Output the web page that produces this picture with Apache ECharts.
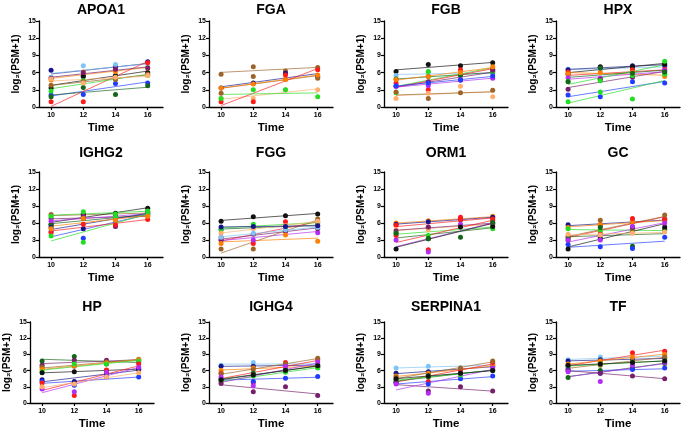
<!DOCTYPE html>
<html><head><meta charset="utf-8">
<script src="https://cdn.jsdelivr.net/npm/echarts@6/dist/echarts.min.js"></script>
<style>html,body{margin:0;padding:0;background:#fff}#c{width:683px;height:431px}</style>
</head><body><div id="c"></div>
<script>
// ---- data ----
const panelNames = ['APOA1','FGA','FGB','HPX','IGHG2','FGG','ORM1','GC','HP','IGHG4','SERPINA1','TF'];
const timePoints = [10, 12, 14, 16];
const xTickLabels = [10, 12, 14, 16];
const yTickLabels = [0, 3, 6, 9, 12, 15];
// each row: subject colour key, value at 10, 12, 14, 16 (null = missing)
const apoa1 = [
  ['navy', 6.4, 5.4, 7.0, 7.9], ['lightblue', 5.2, 7.2, 7.4, 7.0], ['blue', 2.1, 2.2, 4.1, 4.2],
  ['black', 3.3, 5.3, 5.5, 6.0], ['red', 0.9, 0.9, 6.6, 7.7], ['darkgreen', 1.8, 3.4, 2.2, 3.7],
  ['lime', 2.8, 4.6, 4.9, 5.5], ['orange', 4.7, 6.1, 6.2, 6.8], ['brown', 3.8, 4.4, 4.8, 5.7],
  ['purple', 5.0, 6.0, 6.6, 6.8], ['peach', 4.9, 4.2, 5.2, 5.5]
];
const fga = [
  ['brown', 5.7, 7.0, 6.3, 6.9], ['navy', 3.3, 4.2, 5.9, 5.3], ['brown', 2.4, 5.3, 4.8, 5.0],
  ['orange', 3.3, 4.0, 4.8, 5.6], ['peach', 1.5, 1.5, 3.0, 3.0], ['red', 0.9, 0.9, 5.6, 6.5],
  ['lime', 1.5, 3.0, 3.0, 1.8]
];
const fgb = [
  ['black', 6.2, 7.4, 7.2, 7.7], ['lightblue', 5.5, 6.0, 5.9, 5.8], ['darkgreen', 4.9, 5.3, 5.5, 6.1],
  ['lime', 2.5, 6.2, 6.0, 6.2], ['red', 4.2, 3.0, 6.5, 6.6], ['purple', 3.6, 4.4, 4.7, 6.4],
  ['violet', 3.6, 3.7, 4.7, 5.0], ['orange', 4.8, 5.3, 6.0, 7.0], ['peach', 1.5, 2.4, 3.6, 1.8],
  ['brown', 2.6, 1.5, 2.5, 2.9], ['blue', 3.7, 4.2, 4.7, 5.4]
];
const hpx = [
  ['lightblue', 6.6, 6.5, 6.9, 7.0], ['navy', 6.5, 6.9, 7.2, 7.3], ['black', 5.7, 7.0, 7.0, 7.5],
  ['red', 6.1, 4.8, 6.5, 6.6], ['orange', 5.8, 6.0, 6.0, 5.3], ['violet', 5.1, 5.0, 5.5, 6.4],
  ['purple', 3.1, 4.8, 5.2, 6.1], ['blue', 2.1, 1.8, 4.4, 4.2], ['lime', 0.9, 2.6, 1.4, 5.7],
  ['lime', 4.5, 4.6, 5.5, 8.0], ['darkgreen', 4.4, 6.8, 5.9, 6.1]
];
const ighg2 = [
  ['brown', 7.5, 7.2, 7.5, 7.9], ['black', 5.8, 7.5, 7.7, 8.6], ['purple', 6.8, 7.6, 5.4, 8.0],
  ['violet', 6.3, 6.9, 7.2, 7.6], ['darkgreen', 5.6, 6.8, 7.0, 7.3], ['navy', 5.2, 5.0, 7.3, 7.6],
  ['blue', 4.5, 3.3, 6.5, 7.8], ['red', 4.3, 5.8, 5.7, 6.6], ['lime', 3.7, 2.6, 7.0, 7.5],
  ['lime', 7.2, 8.0, 7.6, 8.1], ['orange', 5.0, 6.8, 6.5, 7.2]
];
const fgg = [
  ['black', 6.3, 7.1, 7.3, 7.6], ['darkgreen', 4.8, 5.3, 5.5, 5.5], ['red', 3.5, 2.4, 6.2, 6.0],
  ['violet', 3.0, 3.0, 4.5, 4.3], ['purple', 3.0, 4.0, 4.6, 5.0], ['orange', 2.4, null, 3.9, 2.8],
  ['brown', 1.4, 1.4, 5.0, 6.7], ['lime', 5.0, 5.8, 5.4, 6.2], ['peach', 4.2, 5.0, 5.5, 6.3],
  ['lightblue', 3.5, 4.2, 4.8, 5.2], ['navy', 5.3, 5.4, 5.4, 5.5]
];
const orm1 = [
  ['orange', 6.0, 6.4, 6.6, 7.2], ['navy', 5.8, 6.2, 6.6, 7.0], ['red', 5.6, 5.2, 7.0, 6.7],
  ['peach', 4.8, 4.8, 5.5, 5.8], ['purple', 4.6, 5.3, 5.6, 5.9], ['lime', 4.2, 3.8, 5.6, 5.0],
  ['red', 3.8, 1.3, 6.6, 6.4], ['violet', 3.0, 0.9, 5.8, 6.0], ['black', 1.4, 3.2, 5.3, 5.4],
  ['darkgreen', 4.2, 3.2, 3.5, 6.1]
];
const gc = [
  ['navy', 5.7, 5.6, 6.2, 6.6], ['orange', 5.2, 5.8, 6.2, 6.3], ['lime', 5.0, 4.5, 4.8, 4.7],
  ['red', 3.6, 4.0, 6.8, 6.7], ['darkgreen', 3.3, 5.2, 1.9, 5.0], ['brown', 2.9, 6.5, 4.8, 7.4],
  ['blue', 2.2, 1.8, 1.5, 3.5], ['black', 1.4, 3.3, 5.3, 5.3], ['violet', 3.0, 3.0, 5.4, 6.0],
  ['peach', 4.0, 3.9, 4.2, 4.4]
];
const hp = [
  ['darkgreen', 7.8, 8.6, 7.2, 7.6], ['purple', 7.0, 7.9, 7.9, 7.8], ['brown', 6.6, 6.8, 7.6, 8.1],
  ['orange', 6.2, 6.9, 7.4, 8.0], ['lime', 5.8, 7.2, 7.2, 7.8], ['black', 5.6, 5.8, 6.0, 6.3],
  ['navy', 4.3, 4.0, 5.5, 6.2], ['blue', 4.0, 3.3, 4.8, 4.8], ['red', 3.7, 1.4, 6.1, 7.2],
  ['violet', 2.6, 2.1, 5.7, 6.6], ['peach', 3.0, 3.5, 4.8, 5.6]
];
const ighg4 = [
  ['lightblue', 7.0, 7.5, 7.2, 7.2], ['navy', 6.8, 6.8, 7.0, 7.0], ['orange', 6.0, 6.5, 6.6, 6.8],
  ['red', 5.5, 3.8, 7.5, 8.0], ['brown', 5.4, 6.2, 7.2, 8.3], ['blue', 4.5, 4.0, 4.6, 4.9],
  ['darkgreen', 4.2, 5.5, 6.2, 6.6], ['lime', 3.9, 5.0, 5.7, 6.5], ['purple', 3.6, 2.1, 3.0, 1.4],
  ['violet', 4.8, 3.2, 6.8, 7.6], ['black', 4.3, 5.2, 6.0, 6.9]
];
const serpina1 = [
  ['lightblue', 6.5, 6.8, 6.5, 7.2], ['navy', 5.5, 5.8, 6.2, 6.8], ['orange', 5.0, 5.5, 6.0, 7.0],
  ['red', 4.5, 4.0, 6.2, 7.5], ['brown', 4.8, 5.2, 6.5, 7.8], ['blue', 3.8, 3.5, 4.5, 5.0],
  ['darkgreen', 4.0, 4.8, 5.5, 6.0], ['lime', 4.2, 5.0, 5.2, 6.2], ['purple', 3.8, 2.2, 3.0, 2.2],
  ['violet', 3.5, 1.8, 5.5, 6.5], ['black', 4.5, 5.0, 5.5, 6.0]
];
const tf = [
  ['lightblue', 8.0, 8.5, 8.2, 8.8], ['navy', 7.8, 8.0, 8.0, 8.3], ['red', 7.0, 7.5, 9.3, 9.6],
  ['orange', 7.2, 7.8, 8.5, 9.0], ['brown', 6.5, 7.0, 7.8, 8.5], ['darkgreen', 4.7, 6.0, 6.5, 7.3],
  ['lime', 6.8, 7.2, 7.5, 7.8], ['blue', 6.2, 5.5, 6.2, 6.5], ['purple', 6.0, 5.5, 5.0, 4.5],
  ['violet', 5.8, 4.0, 7.0, 7.5], ['black', 7.0, 7.2, 7.5, 7.8]
];
const panelData = [apoa1, fga, fgb, hpx, ighg2, fgg, orm1, gc, hp, ighg4, serpina1, tf];

// ---- styling ----
const palette = {
  navy: '#16168a', lightblue: '#7ec4f5', blue: '#1f3cff', black: '#111111', red: '#ff1a1a',
  darkgreen: '#16661a', lime: '#22dd22', orange: '#ff8000', brown: '#9c6428', purple: '#771f6a',
  violet: '#b52cf5', peach: '#ffb070'
};
const colLeft = [39, 209, 384, 556];
const rowTop = [21, 172, 322];
const rowBottom = [107, 257, 407];
const titleY = [10, 153, 307];
const plotW = 124;
const FONT = 'Liberation Sans, Arial, sans-serif';

const grids = [], xAxes = [], yAxes = [], series = [], graphics = [];

function fit(pts) {
  const n = pts.length;
  let sx = 0, sy = 0; pts.forEach(p => { sx += p[0]; sy += p[1]; });
  const mx = sx / n, my = sy / n;
  let num = 0, den = 0; pts.forEach(p => { num += (p[0] - mx) * (p[1] - my); den += (p[0] - mx) * (p[0] - mx); });
  const b = den ? num / den : 0;
  return x => my + b * (x - mx);
}

panelNames.forEach((name, i) => {
  const r = Math.floor(i / 4), c = i % 4;
  let left = colLeft[c];
  if (r === 2 && c === 0) left = 30;
  grids.push({ left: left, top: rowTop[r], width: plotW, height: rowBottom[r] - rowTop[r] });
  xAxes.push({
    gridIndex: i, type: 'value', min: 9.25, max: 16.95,
    name: 'Time', nameLocation: 'middle', nameGap: 15,
    nameTextStyle: { fontFamily: FONT, fontWeight: 'bold', fontSize: 11.5, color: '#000' },
    axisLine: { onZero: false, lineStyle: { color: '#000', width: 1.3 } },
    axisTick: { customValues: xTickLabels, length: 3, lineStyle: { color: '#000', width: 1.2 } },
    axisLabel: { customValues: xTickLabels, margin: 5, fontFamily: FONT, fontWeight: 'bold', fontSize: 7, color: '#000' },
    splitLine: { show: false }
  });
  yAxes.push({
    gridIndex: i, type: 'value', min: 0, max: 15, interval: 3,
    name: 'log\u2082(PSM+1)', nameLocation: 'middle', nameGap: 18,
    nameTextStyle: { fontFamily: FONT, fontWeight: 'bold', fontSize: 10, color: '#000' },
    axisLine: { show: true, lineStyle: { color: '#000', width: 1.3 } },
    axisTick: { show: true, length: 3, lineStyle: { color: '#000', width: 1.2 } },
    axisLabel: { margin: 3, fontFamily: FONT, fontWeight: 'bold', fontSize: 7, color: '#000' },
    splitLine: { show: false }
  });
  graphics.push({
    type: 'text', x: left + plotW / 2, y: titleY[r],
    style: { text: name, align: 'center', verticalAlign: 'middle', font: 'bold 14px ' + FONT, fill: '#000' }
  });
  panelData[i].forEach(row => {
    const col = palette[row[0]];
    const pts = [];
    timePoints.forEach((t, k) => { if (row[k + 1] != null) pts.push([t, row[k + 1]]); });
    const f = fit(pts);
    series.push({
      type: 'line', xAxisIndex: i, yAxisIndex: i, silent: true, symbol: 'none', z: 2,
      data: [[timePoints[0], f(timePoints[0])], [timePoints[3], f(timePoints[3])]],
      lineStyle: { color: col, width: 0.9, opacity: 0.75 }
    });
    series.push({
      type: 'scatter', xAxisIndex: i, yAxisIndex: i, silent: true, z: 3,
      symbol: 'circle', symbolSize: 5, data: pts,
      itemStyle: { color: col, opacity: 1 }
    });
  });
});

const chart = echarts.init(document.getElementById('c'), null, { renderer: 'canvas' });
chart.setOption({
  animation: false, backgroundColor: '#fff',
  grid: grids, xAxis: xAxes, yAxis: yAxes, series: series, graphic: graphics
});
</script></body></html>
